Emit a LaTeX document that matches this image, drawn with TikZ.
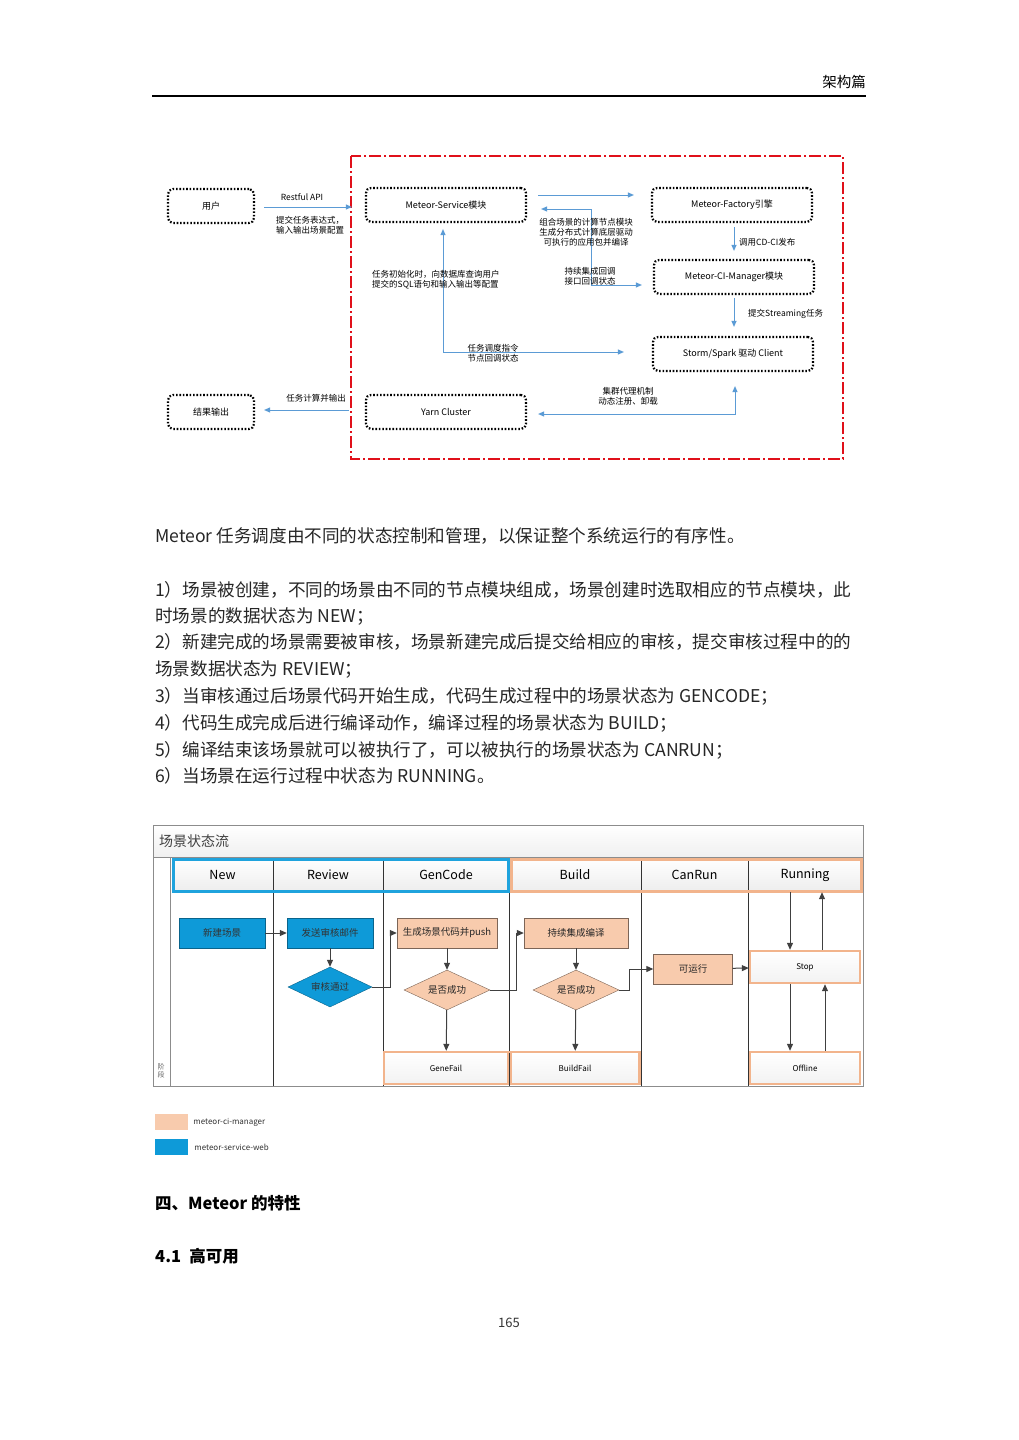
\documentclass[tikz,border=0pt]{standalone}
\usepackage{fontspec}
\setmainfont{Noto Sans CJK SC}
\usetikzlibrary{positioning,arrows.meta,shapes.geometric,calc}
\definecolor{cFlow}{HTML}{5B9BD5}
\definecolor{cFrame}{HTML}{E0101A}
\definecolor{cSvc}{HTML}{0E9AD8}
\definecolor{cMgr}{HTML}{F8CBAD}
\definecolor{cLaneB}{HTML}{1FA3DD}
\definecolor{cLaneO}{HTML}{F2B48C}
\definecolor{cArr}{HTML}{404040}
\definecolor{cGrid}{HTML}{8C8C8C}
\tikzset{
  mod/.style={rounded corners=5pt, draw=black, line width=2.2pt,
              dash pattern=on 1.6pt off 1.8pt, minimum width=160pt,
              minimum height=34pt, font=\fontsize{9}{11}\selectfont},
  fl/.style={-{Triangle[length=6pt,width=5pt]}, cFlow, line width=1pt},
  fll/.style={{Triangle[length=6pt,width=5pt]}-{Triangle[length=6pt,width=5pt]}, cFlow, line width=1pt},
  lbl/.style={font=\fontsize{8.5}{10}\selectfont, align=center, inner sep=0pt},
  txt/.style={anchor=west, inner sep=0pt, font=\fontsize{17.6}{20}\selectfont, text=black!85},
  hcell/.style={top color=white, bottom color=gray!14, minimum height=34pt,
                inner sep=0pt, font=\fontsize{12.5}{14}\selectfont},
  svcb/.style={fill=cSvc, draw=cSvc!65!black, minimum width=86pt, minimum height=30pt,
               font=\fontsize{9.5}{11}\selectfont, text=black!80},
  mgrb/.style={fill=cMgr, draw=cMgr!50!black, minimum height=30pt,
               font=\fontsize{9.5}{11}\selectfont, text=black!85},
  svcd/.style={diamond, aspect=2.1, inner sep=0pt, fill=cSvc, draw=cSvc!65!black,
               minimum width=84pt, minimum height=40pt, font=\fontsize{9.5}{11}\selectfont, text=black!80},
  mgrd/.style={diamond, aspect=2.1, inner sep=0pt, fill=cMgr, draw=cMgr!50!black,
               minimum width=86pt, minimum height=40pt, font=\fontsize{9.5}{11}\selectfont, text=black!85},
  stb/.style={draw=cLaneO, line width=2.4pt, top color=white, bottom color=gray!10,
              minimum height=32pt, font=\fontsize{8}{10}\selectfont},
  ga/.style={-{Triangle[length=7pt,width=6pt]}, cArr, line width=1pt},
}

\begin{document}
\begin{tikzpicture}[x=1pt, y=-1pt]
  \useasboundingbox[fill=white] (0,0) rectangle (1019,1440);

  % --- page header ---
  \node[anchor=east, inner sep=0pt, font=\fontsize{14.5}{16}\selectfont] (hdr) at (866,82) {架构篇};
  \draw[line width=2pt] (152,96) -- (866,96);

  % --- architecture ---
  \draw[cFrame, line width=1.6pt, dash pattern=on 12pt off 3pt on 2pt off 3pt] (351,156) rectangle (843,459);
  \node[mod, minimum width=86pt] (user) at (211,206) {用户};
  \node[mod] (svc)  at (446,205) {Meteor-Service模块};
  \node[mod] (fac)  at (732,205) {Meteor-Factory引擎};
  \node[mod] (mgr)  at (734,277) {Meteor-CI-Manager模块};
  \node[mod] (strm) at (733,354) {Storm/Spark 驱动 Client};
  \node[mod] (yarn) at (446,412) {Yarn Cluster};
  \node[mod, minimum width=86pt] (res) at (211,412) {结果输出};

  \draw[fl, shorten <=9pt, shorten >=13pt] ([yshift=-1pt]user.east) -- ([yshift=-1pt]user.east -| svc.west);
  \node[lbl] at (302,197) {Restful API};
  \node[lbl] at (310,225) {提交任务表达式，\\输入输出场景配置};

  \draw[fl] ([xshift=11pt,yshift=10pt]svc.east) -- ([xshift=-17pt,yshift=10pt]svc.east -| fac.west);
  \coordinate (cbL) at ([xshift=14pt,yshift=-4pt]svc.east);
  \coordinate (cbR) at ([xshift=-11pt,yshift=-8pt]mgr.west);
  \coordinate (cbX) at (591,0);
  \draw[fll] (cbL) -- (cbL -| cbX) |- (cbR);
  \node[lbl] at (586,232) {组合场景的计算节点模块\\生成分布式计算底层驱动\\可执行的应用包并编译};
  \node[lbl, align=left] at (590,276) {持续集成回调\\接口回调状态};

  \draw[fl, shorten <=4pt, shorten >=8pt] ([xshift=2pt]fac.south) -- ([xshift=2pt]fac.south |- mgr.north);
  \node[lbl, anchor=west] at (739,242) {调用CD-CI发布};
  \draw[fl, shorten <=3pt, shorten >=9pt] (mgr.south) -- (mgr.south |- strm.north);
  \node[lbl, anchor=west] at (748,314) {提交Streaming任务};

  \coordinate (dsp) at (443,352);
  \draw[fl, shorten >=6pt] (dsp) -- (dsp |- svc.south);
  \draw[fl] (dsp) -- ([xshift=-28pt]dsp -| strm.west);
  \node[lbl, align=left, anchor=west] at (372,280) {任务初始化时，向数据库查询用户\\提交的SQL语句和输入输出等配置};
  \node[lbl, align=left] at (493,353) {任务调度指令\\节点回调状态};

  \draw[fll] ([xshift=2pt,yshift=-14pt]strm.south) |- ([xshift=11pt,yshift=-2pt]yarn.east);
  \node[lbl] at (628,396) {集群代理机制\\动态注册、卸载};

  \draw[fl] ([xshift=-16pt,yshift=2pt]yarn.west) -- ([xshift=9pt,yshift=2pt]yarn.west -| res.east);
  \node[lbl] at (316,398) {任务计算并输出};

  % --- body text ---
  \node[txt] (t0) at (155,536) {Meteor 任务调度由不同的状态控制和管理，以保证整个系统运行的有序性。};
  \node[txt] (t1) at (155,590) {1）场景被创建，不同的场景由不同的节点模块组成，场景创建时选取相应的节点模块，此};
  \node[txt] (t2) at (155,616) {时场景的数据状态为 NEW；};
  \node[txt] (t3) at (155,642) {2）新建完成的场景需要被审核，场景新建完成后提交给相应的审核，提交审核过程中的的};
  \node[txt] (t4) at (155,669) {场景数据状态为 REVIEW；};
  \node[txt] (t5) at (155,696) {3）当审核通过后场景代码开始生成，代码生成过程中的场景状态为 GENCODE；};
  \node[txt] (t6) at (155,723) {4）代码生成完成后进行编译动作，编译过程的场景状态为 BUILD；};
  \node[txt] (t7) at (155,750) {5）编译结束该场景就可以被执行了，可以被执行的场景状态为 CANRUN；};
  \node[txt] (t8) at (155,776) {6）当场景在运行过程中状态为 RUNNING。};

  % --- state flow ---
  \shade[top color=white, bottom color=gray!12] (153,825) rectangle (863,857);
  \draw[cGrid] (153,825) rectangle (863,1086);
  \draw[cGrid] (153,857) -- (863,857);
  \draw[cGrid] (170,857) -- (170,1086);
  \node[anchor=west, inner sep=0pt, font=\fontsize{14}{16}\selectfont, text=black!75] (ttl) at (159,841) {场景状态流};
  \node[inner sep=0pt, align=center, font=\fontsize{7}{8}\selectfont, text=black!60] (ph) at (161,1071) {阶\\段};
  \foreach \xa/\xb/\nm in {172/273/New, 273/383/Review, 383/509/GenCode, 509/641/Build, 641/748/CanRun, 748/862/Running}
    \node[hcell, minimum width=(\xb-\xa)*1pt] (h\nm) at ({(\xa+\xb)/2},875) {\nm};
  \foreach \xc in {273,383,509,641,748}
    \draw[black!80] (\xc,858) -- (\xc,1086);
  \draw[cLaneB, line width=3pt] (173,859) rectangle (508,891);
  \draw[cLaneO, line width=3pt] (511,859) rectangle (861,891);

  \node[svcb] (nNew) at (222,933) {新建场景};
  \node[svcb] (nMail) at (330,933) {发送审核邮件};
  \node[svcd] (nPass) at (330,987) {审核通过};
  \node[mgrb, minimum width=100pt] (nGen) at (447,933) {生成场景代码并push};
  \node[mgrd] (nOkG) at (447,990) {是否成功};
  \node[mgrb, minimum width=104pt] (nBld) at (576,933) {持续集成编译};
  \node[mgrd] (nOkB) at (576,990) {是否成功};
  \node[mgrb, minimum width=79pt] (nCan) at (693,969) {可运行};
  \node[stb, minimum width=110pt] (nStop) at (805,967) {Stop};
  \node[stb, minimum width=124pt] (nGF) at (446,1068) {GeneFail};
  \node[stb, minimum width=129pt] (nBF) at (575,1068) {BuildFail};
  \node[stb, minimum width=110pt] (nOff) at (805,1068) {Offline};
  \draw[black!80] (509,1053) -- (509,1086);

  \draw[ga] (nNew) -- (nMail);
  \draw[ga] (nMail) -- (nPass);
  \draw[ga] (nPass.east) -| ([xshift=-6pt]nGen.west) -- (nGen.west);
  \draw[ga] (nGen) -- (nOkG);
  \draw[ga] (nOkG.east) -| ([xshift=-7pt]nBld.west) -- (nBld.west);
  \draw[ga] (nOkG) -- (nGF);
  \draw[ga] (nBld) -- (nOkB);
  \draw[ga] (nOkB.east) -| ([xshift=-24pt]nCan.west) -- (nCan.west);
  \draw[ga] (nOkB) -- (nBF);
  \draw[ga] (nCan) -- (nStop);
  \draw[ga] ([xshift=-15pt]hRunning.south) -- ([xshift=-15pt]nStop.north);
  \draw[ga] ([xshift=17pt]nStop.north) -- ([xshift=17pt]hRunning.south);
  \draw[ga] ([xshift=-15pt]nStop.south) -- ([xshift=-15pt]nOff.north);
  \draw[ga] ([xshift=20pt]nOff.north) -- ([xshift=20pt]nStop.south);

  % --- legend ---
  \node[fill=cMgr, minimum width=33pt, minimum height=16pt, inner sep=0pt] (lgM) at (171.5,1122) {};
  \node[right=5pt of lgM, inner sep=0pt, font=\fontsize{8}{9}\selectfont, text=black!80] {meteor-ci-manager};
  \node[fill=cSvc, minimum width=33pt, minimum height=16pt, inner sep=0pt] (lgS) at (171.5,1147) {};
  \node[right=6pt of lgS, inner sep=0pt, font=\fontsize{8}{9}\selectfont, text=black!80] {meteor-service-web};

  % --- headings, page number ---
  \node[anchor=west, inner sep=0pt, font=\bfseries\fontsize{16.5}{18}\selectfont] (s4) at (155,1203) {四、Meteor 的特性};
  \node[anchor=west, inner sep=0pt, font=\bfseries\fontsize{16.5}{18}\selectfont] (s41) at (155,1256) {4.1\enspace 高可用};
  \node[inner sep=0pt, font=\fontsize{13}{15}\selectfont, text=black!80] (pg) at (509,1323) {165};
\end{tikzpicture}
\end{document}
